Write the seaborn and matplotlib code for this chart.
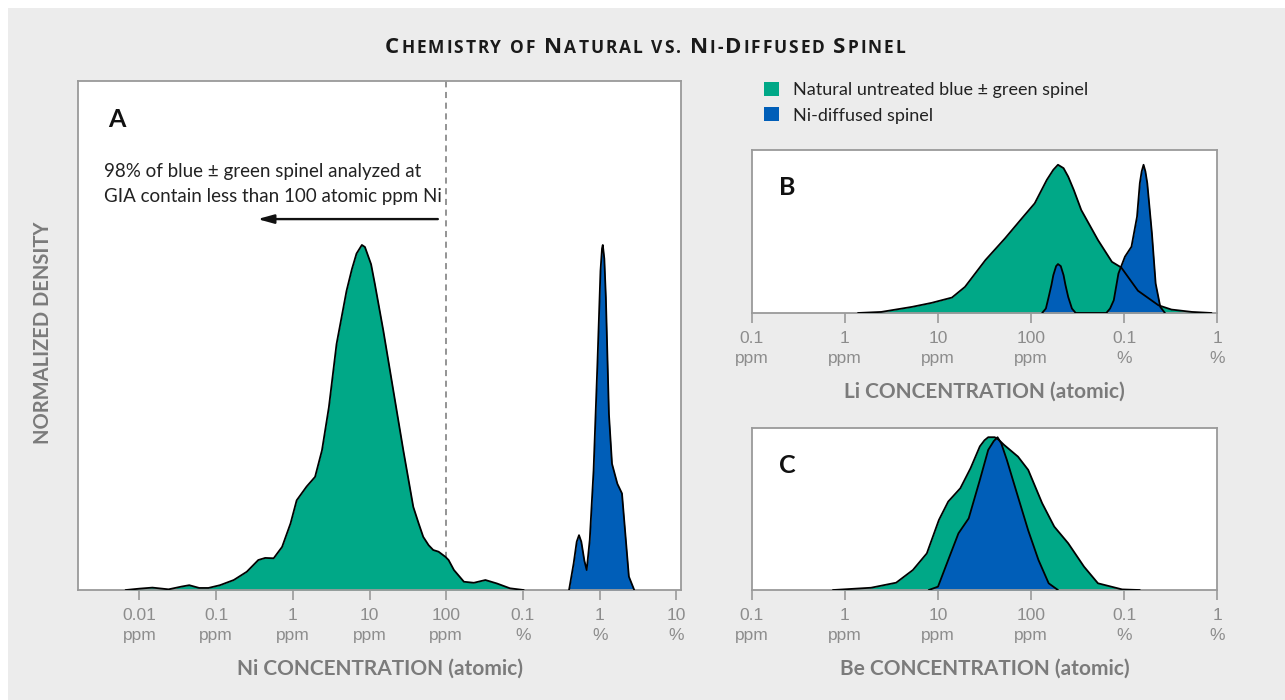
import numpy as np
import matplotlib
matplotlib.use('Agg')
import matplotlib.pyplot as plt
import seaborn as sns
from matplotlib.patches import Rectangle, Patch

# --- data (x = log10 atomic ppm, y = normalized density) ---
ni_nat_x = [-2.18, -2.0, -1.83, -1.62, -1.45, -1.35, -1.22, -1.10, -0.95, -0.77, -0.60, -0.45,
            -0.36, -0.25, -0.14, -0.03, 0.05, 0.18, 0.29, 0.38, 0.47, 0.57, 0.70, 0.77, 0.83,
            0.90, 0.94, 1.02, 1.07, 1.18, 1.31, 1.44, 1.57, 1.64, 1.70, 1.77, 1.83, 1.90, 1.99,
            2.03, 2.10, 2.23, 2.36, 2.51, 2.66, 2.83, 3.01]
ni_nat_y = [0.0, 0.004, 0.007, 0.002, 0.010, 0.014, 0.006, 0.006, 0.014, 0.029, 0.053, 0.087,
            0.093, 0.092, 0.125, 0.193, 0.26, 0.30, 0.328, 0.405, 0.53, 0.713, 0.867, 0.93, 0.975,
            1.0, 0.994, 0.944, 0.886, 0.751, 0.578, 0.405, 0.241, 0.193, 0.154, 0.13, 0.116,
            0.111, 0.096, 0.087, 0.058, 0.024, 0.021, 0.029, 0.019, 0.005, 0.0]
ni_dif_x = [3.60, 3.66, 3.70, 3.73, 3.76, 3.80, 3.83, 3.87, 3.92, 3.97, 4.01, 4.03, 4.04, 4.06,
            4.08, 4.12, 4.16, 4.23, 4.29, 4.33, 4.38, 4.45]
ni_dif_y = [0.0, 0.077, 0.14, 0.159, 0.14, 0.085, 0.058, 0.145, 0.347, 0.655, 0.925, 0.99, 1.0,
            0.96, 0.848, 0.51, 0.366, 0.308, 0.28, 0.173, 0.039, 0.0]

li_nat_x = [0.14, 0.39, 0.72, 0.93, 1.15, 1.29, 1.51, 1.72, 1.90, 2.04, 2.17, 2.24, 2.29, 2.35,
            2.40, 2.46, 2.54, 2.72, 2.87, 2.97, 3.15, 3.37, 3.51, 3.73, 3.94]
li_nat_y = [0.0, 0.007, 0.041, 0.068, 0.104, 0.176, 0.357, 0.503, 0.637, 0.74, 0.898, 0.966,
            1.0, 0.977, 0.92, 0.83, 0.695, 0.492, 0.345, 0.307, 0.15, 0.052, 0.023, 0.007, 0.0]
li_dif_x = [2.12, 2.16, 2.19, 2.22, 2.24, 2.27, 2.29, 2.32, 2.35, 2.37, 2.40, 2.44, 2.48,
            2.81, 2.85, 2.89, 2.94, 3.01, 3.08, 3.14, 3.17, 3.19, 3.21, 3.23, 3.25, 3.30, 3.34,
            3.39, 3.44]
li_dif_y = [0.0, 0.03, 0.108, 0.19, 0.255, 0.316, 0.33, 0.316, 0.255, 0.19, 0.108, 0.03, 0.0,
            0.0, 0.03, 0.086, 0.266, 0.38, 0.447, 0.65, 0.876, 0.955, 1.0, 0.955, 0.876, 0.537,
            0.199, 0.041, 0.0]

be_nat_x = [-0.13, 0.28, 0.55, 0.73, 0.88, 1.01, 1.11, 1.24, 1.35, 1.45, 1.50, 1.54, 1.61, 1.65,
            1.71, 1.86, 1.97, 2.12, 2.25, 2.40, 2.57, 2.72, 2.98, 3.17]
be_nat_y = [0.0, 0.015, 0.048, 0.131, 0.24, 0.459, 0.579, 0.666, 0.797, 0.94, 0.98, 1.0, 1.0,
            0.985, 0.95, 0.873, 0.786, 0.568, 0.415, 0.306, 0.153, 0.044, 0.004, 0.0]
be_dif_x = [0.90, 1.00, 1.11, 1.22, 1.33, 1.45, 1.54, 1.60, 1.64, 1.68, 1.74, 1.86, 1.97, 2.08,
            2.19, 2.29]
be_dif_y = [0.0, 0.022, 0.197, 0.371, 0.469, 0.72, 0.917, 0.975, 1.0, 0.96, 0.852, 0.61, 0.39,
            0.197, 0.044, 0.0]

ticks_a = [0.01, 0.1, 1, 10, 100, 1000, 10000, 100000]
labels_a = ['0.01\nppm', '0.1\nppm', '1\nppm', '10\nppm', '100\nppm', '0.1\n%', '1\n%', '10\n%']
ticks_bc = [0.1, 1, 10, 100, 1000, 10000]
labels_bc = ['0.1\nppm', '1\nppm', '10\nppm', '100\nppm', '0.1\n%', '1\n%']

GREEN = '#00a887'
BLUE = '#005eb8'
GRAY_TXT = '#7b7b7b'
TICK_TXT = '#8c8c8c'
SPINE = '#9a9a9a'
BG = '#ececec'

sns.set_theme(style='white')
plt.rcParams['font.family'] = ['Lato', 'DejaVu Sans']

fig = plt.figure(figsize=(12.85, 7.0), dpi=100)
fig.patch.set_facecolor('white')
fig.patches.append(Rectangle((8 / 1285, 0), 1 - 8 / 1285, 1 - 8 / 700, transform=fig.transFigure,
                             facecolor=BG, edgecolor='none', zorder=-10))

ax_a = fig.add_axes([0.0607, 0.1571, 0.4693, 0.7271])
ax_b = fig.add_axes([0.5852, 0.5529, 0.3619, 0.2329])
ax_c = fig.add_axes([0.5852, 0.1571, 0.3619, 0.2314])


def draw_density(ax, xs, ys, color):
    conc = 10 ** np.array(xs)
    ax.fill_between(conc, ys, 0, color=color, linewidth=0, zorder=2)
    sns.lineplot(x=conc, y=ys, ax=ax, color='black', linewidth=1.3, sort=False, zorder=3)


def style_axis(ax, ticks, labels, xlim, ylim, xlabel):
    ax.set_facecolor('white')
    ax.set_xscale('log')
    ax.set_xlim(*xlim)
    ax.set_ylim(*ylim)
    ax.set_xticks(ticks)
    ax.set_xticklabels(labels, fontfamily='Liberation Sans', fontsize=12.5, color=TICK_TXT,
                       linespacing=1.45)
    ax.minorticks_off()
    ax.set_yticks([])
    ax.tick_params(axis='x', direction='out', length=7, width=1.2, color=SPINE, pad=6,
                   bottom=True)
    for s in ax.spines.values():
        s.set_color(SPINE)
        s.set_linewidth(1.3)
    ax.set_xlabel(xlabel, fontsize=15, fontweight='bold', color=GRAY_TXT, labelpad=11)
    ax.set_ylabel('')


# panel A
draw_density(ax_a, ni_nat_x, ni_nat_y, GREEN)
draw_density(ax_a, ni_dif_x, ni_dif_y, BLUE)
style_axis(ax_a, ticks_a, labels_a, (10 ** -2.8, 10 ** 5.06), (0, 1.475),
           'Ni CONCENTRATION (atomic)')
ax_a.axvline(100, color='#777777', linestyle=(0, (4, 3)), linewidth=1.1, zorder=1)
ax_a.text(0.05, 0.925, 'A', transform=ax_a.transAxes, fontsize=18, fontweight='bold',
          color='#111111', va='center')
ax_a.text(0.043, 0.798, '98% of blue \u00b1 green spinel analyzed at\nGIA contain less than 100 atomic ppm Ni',
          transform=ax_a.transAxes, fontsize=13.5, color='#222222', va='center', linespacing=1.55)
ax_a.annotate('', xy=(10 ** -0.46, 1.075), xytext=(10 ** 1.89, 1.075),
              arrowprops=dict(arrowstyle='-|>,head_length=0.8,head_width=0.22', color='#111111',
                              linewidth=1.7, shrinkA=0, shrinkB=0))

# panel B
draw_density(ax_b, li_nat_x, li_nat_y, GREEN)
draw_density(ax_b, li_dif_x, li_dif_y, BLUE)
style_axis(ax_b, ticks_bc, labels_bc, (0.1, 10000), (0, 1.10), 'Li CONCENTRATION (atomic)')
ax_b.text(0.058, 0.77, 'B', transform=ax_b.transAxes, fontsize=18, fontweight='bold',
          color='#111111', va='center')

# panel C
draw_density(ax_c, be_nat_x, be_nat_y, GREEN)
draw_density(ax_c, be_dif_x, be_dif_y, BLUE)
style_axis(ax_c, ticks_bc, labels_bc, (0.1, 10000), (0, 1.06), 'Be CONCENTRATION (atomic)')
ax_c.text(0.058, 0.77, 'C', transform=ax_c.transAxes, fontsize=18, fontweight='bold',
          color='#111111', va='center')

# y label
fig.text(43 / 1285, 1 - 333 / 700, 'NORMALIZED DENSITY', rotation=90, fontsize=14.5,
         fontweight='bold', color=GRAY_TXT, ha='center', va='center')

# legend
handles = [Patch(facecolor=GREEN, edgecolor='none'), Patch(facecolor=BLUE, edgecolor='none')]
fig.legend(handles, ['Natural untreated blue \u00b1 green spinel', 'Ni-diffused spinel'],
           loc='upper left', bbox_to_anchor=(748 / 1285, 1 - 66 / 700), frameon=False,
           fontsize=13, handlelength=0.8, handleheight=0.8, handletextpad=0.8,
           labelspacing=0.5, labelcolor='#222222')

# small-caps title, placed letter by letter with a little tracking
segments = [('C', 16), ('HEMISTRY', 12.5), (' ', 12.5), ('OF', 12.5), (' ', 12.5), ('N', 16),
            ('ATURAL', 12.5), (' ', 12.5), ('VS.', 12.5), (' ', 12.5), ('N', 16), ('I-', 12.5),
            ('D', 16), ('IFFUSED', 12.5), (' ', 12.5), ('S', 16), ('PINEL', 12.5)]
fig.canvas.draw()
renderer = fig.canvas.get_renderer()
pieces = []
total = 0
track = 1.9
for seg, size in segments:
    for ch in seg:
        if ch == ' ':
            pieces.append((None, 7.0))
            total += 7.0
            continue
        t = fig.text(0, 1 - 53 / 700, ch, fontsize=size, fontweight='bold', color='#1a1a1a',
                     va='baseline', ha='left', family=['Open Sans', 'Lato', 'DejaVu Sans'])
        w = t.get_window_extent(renderer).width + track
        pieces.append((t, w))
        total += w
x0 = 646 - total / 2
for t, w in pieces:
    if t is not None:
        t.set_x(x0 / 1285)
    x0 += w

fig.savefig('out.png', dpi=100, facecolor=fig.get_facecolor())
